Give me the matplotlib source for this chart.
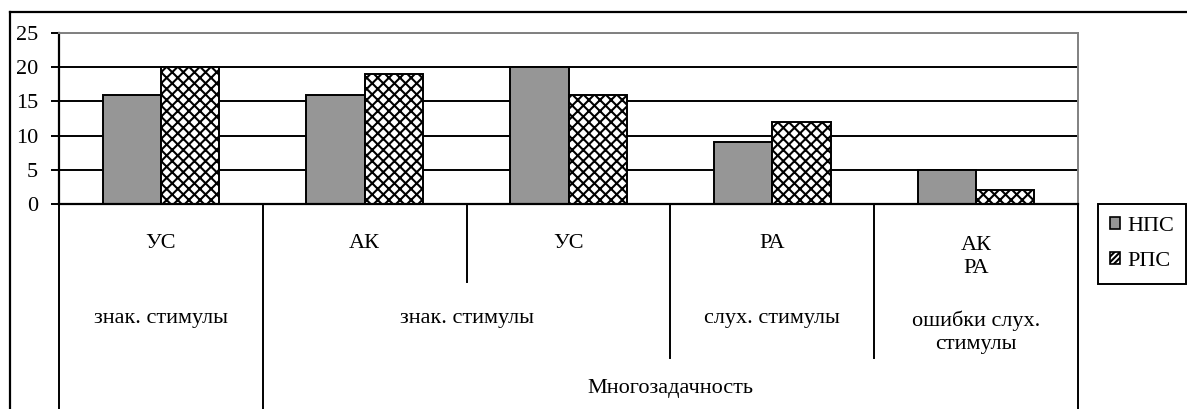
import matplotlib
matplotlib.use("Agg")
import matplotlib.pyplot as plt
from matplotlib.patches import Patch
from matplotlib.transforms import blended_transform_factory
import numpy as np

plt.rcParams['font.family'] = ['Liberation Serif', 'DejaVu Serif']
plt.rcParams['hatch.linewidth'] = 1.5

level1 = ["УС", "АК", "УС", "РА", "АК\nРА"]
level2 = ["знак. стимулы", "знак. стимулы", "слух. стимулы", "ошибки слух.\nстимулы"]
level2_spans = [(0, 0), (1, 2), (3, 3), (4, 4)]
level3 = "Многозадачность"
level3_span = (1, 4)
series_names = ["НПС", "РПС"]
nps = [16, 16, 20, 9, 5]
rps = [20, 19, 16, 12, 2]
yticks = [0, 5, 10, 15, 20, 25]

FS = 16
W, H = 1187, 409
fig = plt.figure(figsize=(W / 100, H / 100), dpi=100)
ax = fig.add_axes([59 / W, 1 - 204 / H, (1078 - 59) / W, (204 - 33) / H])

x = np.arange(len(level1))
bw = 1 / 3.5
gray = "#969696"
ax.bar(x - bw / 2, nps, bw, color=gray, edgecolor="black", linewidth=1.4, zorder=3)
ax.bar(x + bw / 2, rps, bw, color="white", edgecolor="black", hatch="xxx", linewidth=1.4, zorder=3)

ax.set_xlim(-0.5, len(level1) - 0.5)
ax.set_ylim(0, 25)
ax.set_yticks(yticks)
ax.set_yticklabels([str(v) for v in yticks], fontsize=FS)
ax.tick_params(axis="y", direction="out", length=6, width=1.4, pad=9)
ax.set_xticks([])
for v in yticks[1:-1]:
    ax.axhline(v, color="black", linewidth=1.4, zorder=1)
ax.axhline(25, color="#808080", linewidth=1.4, zorder=1)
for s in ["top", "right"]:
    ax.spines[s].set_color("#808080")
    ax.spines[s].set_linewidth(1.4)
for s in ["left", "bottom"]:
    ax.spines[s].set_color("black")
    ax.spines[s].set_linewidth(1.6)
ax.spines["bottom"].set_zorder(5)

# multi-level category axis
tr = blended_transform_factory(ax.transData, fig.transFigure)
def fy(py):
    return 1 - py / H

bottom_px = 412
ends = {-0.5: bottom_px, 0.5: bottom_px, 1.5: 282, 2.5: 358, 3.5: 358, 4.5: bottom_px}
for bx, ey in ends.items():
    ax.plot([bx, bx], [fy(204), fy(ey)], color="black", linewidth=1.4,
            transform=tr, clip_on=False)

for i, lab in enumerate(level1):
    yy = fy(243) if "\n" not in lab else fy(257)
    ax.text(i, yy, lab, transform=tr, ha="center", va="center",
            fontsize=FS, linespacing=1.3)
for (a, b), lab in zip(level2_spans, level2):
    yy = fy(318) if "\n" not in lab else fy(332)
    ax.text((a + b) / 2, yy, lab, transform=tr, ha="center", va="center",
            fontsize=FS, linespacing=1.3)
ax.text(sum(level3_span) / 2, fy(388), level3, transform=tr, ha="center",
        va="center", fontsize=FS)

# outer frame
fig.add_artist(plt.Line2D([10 / W, 1], [fy(12), fy(12)], color="black", linewidth=1.6))
fig.add_artist(plt.Line2D([10 / W, 10 / W], [fy(12), 0], color="black", linewidth=1.6))

handles = [Patch(facecolor=gray, edgecolor="black", linewidth=1.2, label=series_names[0]),
           Patch(facecolor="white", edgecolor="black", hatch="//////", linewidth=1.2,
                 label=series_names[1])]
leg = fig.legend(handles=handles, loc="center", bbox_to_anchor=(1142 / W, fy(244)),
                 fontsize=FS, handlelength=0.45, handleheight=0.45, handletextpad=0.3,
                 labelspacing=0.75, borderpad=0.55, borderaxespad=0, fancybox=False,
                 framealpha=1, edgecolor="black")
leg.get_frame().set_linewidth(1.4)

fig.savefig("out.png", dpi=100)
